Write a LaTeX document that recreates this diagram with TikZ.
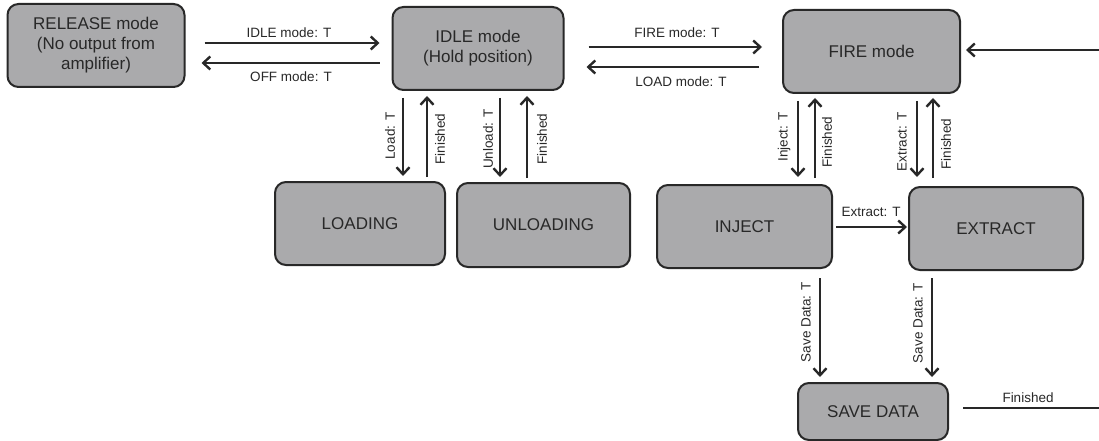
\documentclass[tikz,border=0pt]{standalone}
\usepackage{fontspec}
\setmainfont{Liberation Sans}
\usetikzlibrary{arrows.meta,calc}
\definecolor{boxfill}{RGB}{170,170,172}
\definecolor{ink}{RGB}{40,40,40}
\tikzset{
  state/.style={draw=ink, line width=2pt, fill=boxfill, rounded corners=11pt,
    text=ink, align=center, inner sep=0pt,
    font=\fontsize{17}{20}\selectfont},
  arr/.style={draw=ink, line width=2.2pt,
    -{Straight Barb[length=7pt,width=13pt,line width=2.4pt]}},
  plain/.style={draw=ink, line width=2.2pt},
  lbl/.style={text=ink, inner sep=0pt, font=\fontsize{13.5}{15}\selectfont},
  vlbl/.style={lbl, rotate=90}
}
\begin{document}
\begin{tikzpicture}[x=1pt,y=-1pt]
\useasboundingbox (0,0) rectangle (1099,441);
\fill[white] (0,0) rectangle (1099,441);

% states
\node[state, minimum width=177pt, minimum height=83pt] (rel) at (96,45.5)
  {RELEASE mode\\(No output from\\amplifier)};
\node[state, minimum width=171pt, minimum height=83pt] (idle) at (478,48.5)
  {IDLE mode\\(Hold position)};
\node[state, minimum width=177pt, minimum height=83pt] (fire) at (871.5,51.5)
  {FIRE mode};
\node[state, minimum width=170pt, minimum height=83pt] (loading) at (360,223.5)
  {LOADING};
\node[state, minimum width=173pt, minimum height=84pt] (unloading) at (543.5,225)
  {UNLOADING};
\node[state, minimum width=175pt, minimum height=83pt] (inject) at (744.5,226.5)
  {INJECT};
\node[state, minimum width=174pt, minimum height=83pt] (extract) at (996,228.5)
  {EXTRACT};
\node[state, minimum width=150pt, minimum height=57pt] (save) at (873,411.5)
  {SAVE DATA};

% free ends of the loop back to FIRE mode
\coordinate (fireIn) at (1099,50);
\coordinate (saveOut) at (1099,408);

% RELEASE <-> IDLE
\draw[arr, shorten <=19pt, shorten >=12pt] (rel.east |- 0,43) -- (idle.west |- 0,43);
\draw[arr, shorten <=12pt, shorten >=16pt] (idle.west |- 0,63) -- (rel.east |- 0,63);
\node[lbl] (lIdle) at (289,33) {IDLE mode: T};
\node[lbl] (lOff) at (291,77) {OFF mode: T};

% IDLE <-> FIRE
\draw[arr, shorten <=24pt, shorten >=20pt] (idle.east |- 0,47) -- (fire.west |- 0,47);
\draw[arr, shorten <=23pt, shorten >=22pt] (fire.west |- 0,67) -- (idle.east |- 0,67);
\node[lbl] (lFire) at (677,33) {FIRE mode: T};
\node[lbl] (lLoad) at (681,82) {LOAD mode: T};

% IDLE <-> LOADING / UNLOADING
\draw[arr, shorten <=7pt, shorten >=5pt] (idle.south -| 403,0) -- (loading.north -| 403,0);
\draw[arr, shorten <=4pt, shorten >=5pt] (loading.north -| 427,0) -- (idle.south -| 427,0);
\node[vlbl] (lLd) at (390,136) {Load: T};
\node[vlbl] (lLdF) at (440,139) {Finished};
\draw[arr, shorten <=7pt, shorten >=5pt] (idle.south -| 500,0) -- (unloading.north -| 500,0);
\draw[arr, shorten <=4pt, shorten >=5pt] (unloading.north -| 527,0) -- (idle.south -| 527,0);
\node[vlbl] (lUl) at (488,139) {Unload: T};
\node[vlbl] (lUlF) at (542,139) {Finished};

% FIRE <-> INJECT / EXTRACT
\draw[arr, shorten <=7pt, shorten >=7pt] (fire.south -| 798,0) -- (inject.north -| 798,0);
\draw[arr, shorten <=6pt, shorten >=4pt] (inject.north -| 815,0) -- (fire.south -| 815,0);
\node[vlbl] (lInj) at (784,137) {Inject: T};
\node[vlbl] (lInjF) at (827,142) {Finished};
\draw[arr, shorten <=7pt, shorten >=9pt] (fire.south -| 917,0) -- (extract.north -| 917,0);
\draw[arr, shorten <=8pt, shorten >=4pt] (extract.north -| 933,0) -- (fire.south -| 933,0);
\node[vlbl] (lExt) at (902,142) {Extract: T};
\node[vlbl] (lExtF) at (946,144) {Finished};

% INJECT -> EXTRACT
\draw[arr, shorten <=3pt, shorten >=1pt] (inject.east |- 0,227) -- (extract.west |- 0,227);
\node[lbl] (lIE) at (871,212) {Extract: T};

% INJECT / EXTRACT -> SAVE DATA
\draw[arr, shorten <=9pt, shorten >=5pt] (inject.south -| 820,0) -- (save.north -| 820,0);
\node[vlbl] (lSv1) at (806,322) {Save Data: T};
\draw[arr, shorten <=7pt, shorten >=5pt] (extract.south -| 932,0) -- (save.north -| 932,0);
\node[vlbl] (lSv2) at (918,323) {Save Data: T};

% SAVE DATA back to FIRE mode
\draw[plain, shorten <=14pt] (save.east |- saveOut) -- (saveOut);
\node[lbl] (lSvF) at (1028,398) {Finished};
\draw[arr, shorten >=5pt] (fireIn) -- (fire.east |- fireIn);
\end{tikzpicture}
\end{document}
